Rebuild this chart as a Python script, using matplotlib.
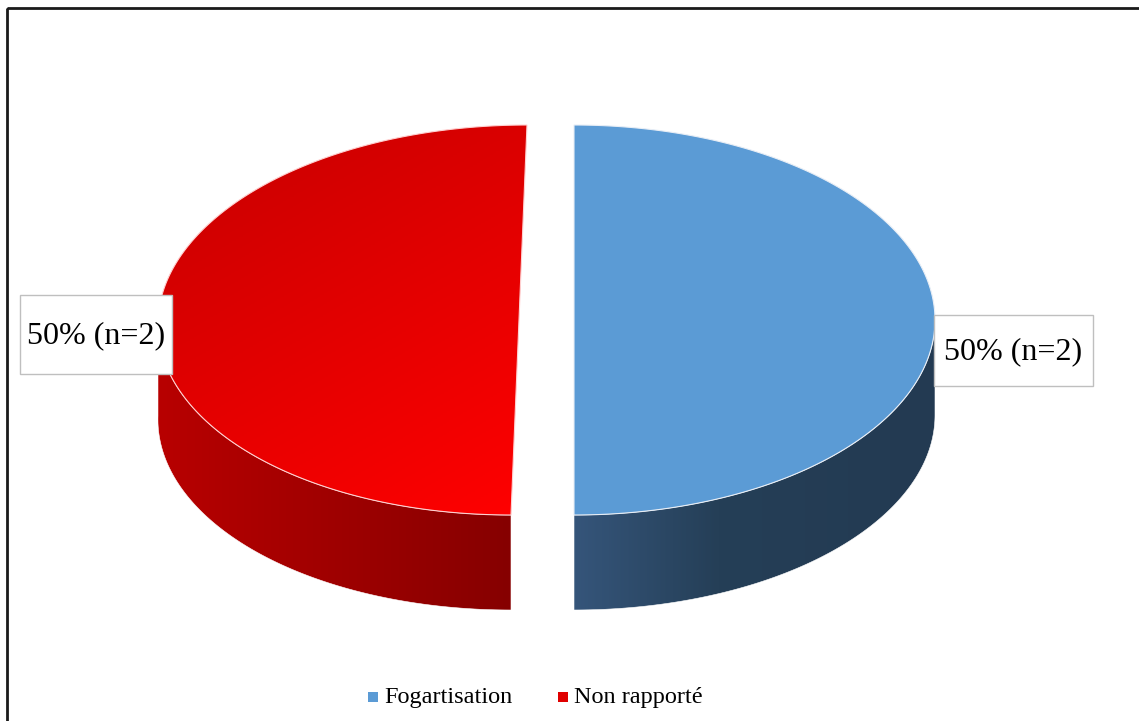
import numpy as np
import matplotlib
matplotlib.use("Agg")
import matplotlib.pyplot as plt
from matplotlib.patches import Polygon, Rectangle
from matplotlib.colors import LinearSegmentedColormap

# Data
categories = ["Fogartisation", "Non rapporté"]
counts = [2, 2]
label_texts = ["50% (n=2)", "50% (n=2)"]

# Styling
top_colors = ["#5b9bd5", None]
top_gradients = [None, [(0.0, "#c60000"), (1.0, "#ff0000")]]
side_gradients = [[(0.0, "#35557a"), (0.4, "#253f57"), (1.0, "#233a52")],
                  [(0.0, "#b80000"), (1.0, "#860000")]]
legend_colors = ["#5b9bd5", "#e00000"]
tilts = [0.0, -0.041]

W, H = 1139, 721
fig = plt.figure(figsize=(W / 100, H / 100), dpi=100)
ax = fig.add_axes([0, 0, 1, 1])
ax.set_xlim(0, W)
ax.set_ylim(H, 0)
ax.axis("off")

plt.rcParams["font.family"] = ["Liberation Serif", "DejaVu Serif"]

# pie geometry (screen units, y downward)
cx, cy = 546.5, 320.0
a, b = 361.0, 195.0
depth = 95.0
explode = 27.5

total = float(sum(counts))
start = 90.0
angles = []
for c in counts:
    sweep = 360.0 * c / total
    angles.append((start, start - sweep))
    start -= sweep


def ellipse_pt(ox, t_deg, tilt, dy=0.0):
    t = np.radians(t_deg)
    y = -b * np.sin(t)
    x = ox + a * np.cos(t) + tilt * y
    return x, cy + y + dy


def grad_fill(poly, stops, direction, zorder):
    cmap = LinearSegmentedColormap.from_list("g", stops)
    verts = poly.get_xy()
    x0, x1 = verts[:, 0].min(), verts[:, 0].max()
    y0, y1 = verts[:, 1].min(), verts[:, 1].max()
    xs = np.linspace(0, 1, 300)
    ys = np.linspace(0, 1, 200)
    X, Y = np.meshgrid(xs, ys)
    Z = direction[0] * X + direction[1] * Y
    Z = (Z - Z.min()) / (Z.max() - Z.min())
    im = ax.imshow(Z, cmap=cmap, extent=(x0, x1, y1, y0), origin="upper",
                   aspect="auto", zorder=zorder, interpolation="bilinear")
    ax.add_patch(poly)
    im.set_clip_path(poly)


for i, (t0, t1) in enumerate(angles):
    mid = np.radians((t0 + t1) / 2.0)
    ox = cx + explode * np.cos(mid)
    tilt = tilts[i]
    ts = np.linspace(t0, t1, 200)
    top = np.array([ellipse_pt(ox, t, tilt) for t in ts])
    center = np.array([[ox, cy]])
    top_poly = np.vstack([center, top])

    # visible side wall: portion of the rim in the lower half
    lo, hi = min(t0, t1), max(t0, t1)
    side_ts = []
    for t in np.linspace(lo, hi, 400):
        tt = t % 360
        if 180.0 <= tt <= 360.0 or tt == 0.0:
            side_ts.append(t)
    if side_ts:
        up = np.array([ellipse_pt(ox, t, tilt) for t in side_ts])
        dn = np.array([ellipse_pt(ox, t, tilt, depth) for t in side_ts[::-1]])
        side = Polygon(np.vstack([up, dn]), closed=True, facecolor="none",
                       edgecolor="#ffffff", linewidth=0.4, zorder=2)
        grad_fill(side, side_gradients[i], (1.0, 0.0), 1)

    if top_gradients[i] is None:
        ax.add_patch(Polygon(top_poly, closed=True, facecolor=top_colors[i],
                             edgecolor="#e8eef6", linewidth=0.8, zorder=3))
    else:
        poly = Polygon(top_poly, closed=True, facecolor="none",
                       edgecolor="#ffd0d0", linewidth=0.8, zorder=4)
        grad_fill(poly, top_gradients[i], (0.55, 1.0), 3)

# data labels
label_boxes = [(934, 315, 159, 71), (20, 295, 152, 79)]
for (x, y, w, h), txt in zip(label_boxes, label_texts):
    ax.add_patch(Rectangle((x, y), w, h, facecolor="white", edgecolor="#bfbfbf",
                           linewidth=1.0, zorder=6))
    ax.text(x + w / 2, y + h / 2 + 1, txt, fontsize=23, ha="center", va="center",
            color="#000000", zorder=7)

# legend
legend_x = [368, 558]
for lx, name, col in zip(legend_x, categories, legend_colors):
    ax.add_patch(Rectangle((lx, 692), 10, 10, facecolor=col, edgecolor="none", zorder=6))
    ax.text(lx + 16, 697, name, fontsize=17.5, ha="left", va="center", color="#000000",
            zorder=7)

# outer frame
ax.add_patch(Rectangle((7, 8), W + 20, H + 20, facecolor="none", edgecolor="#1a1a1a",
                       linewidth=2.0, zorder=10, clip_on=False))

fig.savefig("out.png", dpi=100)
